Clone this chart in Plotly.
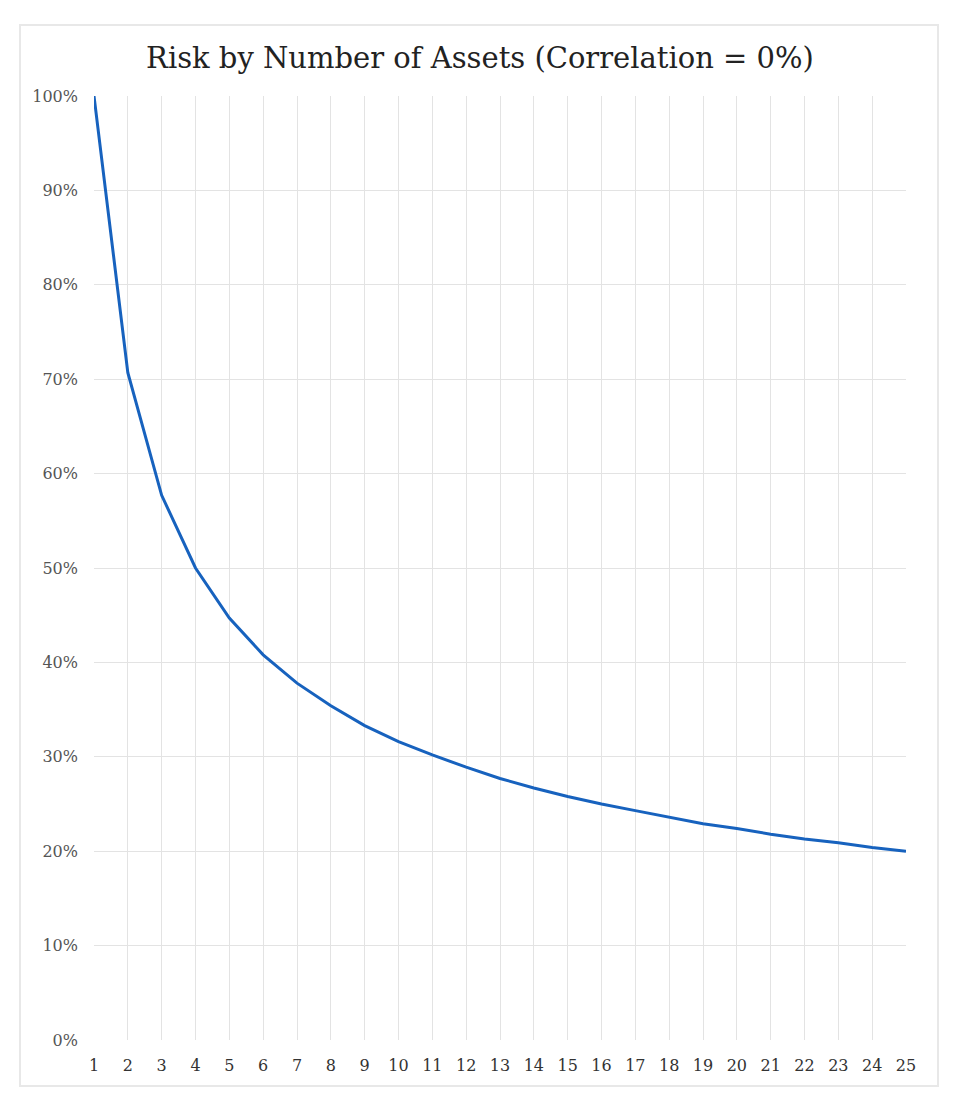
import plotly.graph_objects as go

assets = list(range(1, 26))
risk_pct = [100, 70.7, 57.7, 50.0, 44.7, 40.8, 37.8, 35.4, 33.3, 31.6,
            30.2, 28.9, 27.7, 26.7, 25.8, 25.0, 24.3, 23.6, 22.9, 22.4,
            21.8, 21.3, 20.9, 20.4, 20.0]
y_ticks = list(range(0, 101, 10))
y_tick_labels = [f"{v}%" for v in y_ticks]

# page body has an 8px margin, so the figure is sized/offset to compensate
OFF = 8
W, H = 964 - OFF, 1120 - OFF
L, R, T, B = 94 - OFF, 58, 96 - OFF, 80
pw, ph = W - L - R, H - T - B

fig = go.Figure()
fig.add_trace(go.Scatter(x=assets, y=risk_pct, mode="lines",
                         line=dict(color="#1762be", width=3), showlegend=False,
                         hoverinfo="skip"))

title_font = "DejaVu Serif, Liberation Serif, serif"
tick_font = "DejaVu Serif, Liberation Serif, serif"

fig.update_layout(
    width=W, height=H,
    margin=dict(l=L, r=R, t=T, b=B, pad=0),
    paper_bgcolor="white", plot_bgcolor="white",
    title=dict(text="Risk by Number of Assets (Correlation = 0%)",
               x=(480 - OFF) / W, xanchor="center", y=1 - (58 - OFF) / H,
               yanchor="middle",
               font=dict(family=title_font, size=29, color="#222222")),
    xaxis=dict(range=[1, 25], tickmode="array", tickvals=assets,
               ticktext=[str(a) for a in assets],
               showgrid=True, gridcolor="#e3e3e3", gridwidth=1.4,
               zeroline=False, showline=False, ticks="",
               ticklabelstandoff=14,
               tickfont=dict(family=tick_font, size=16, color="#333333")),
    yaxis=dict(range=[0, 100], tickmode="array", tickvals=y_ticks,
               ticktext=y_tick_labels,
               showgrid=True, gridcolor="#e3e3e3", gridwidth=1.4,
               zeroline=False, showline=False, ticks="",
               ticklabelstandoff=15,
               tickfont=dict(family=tick_font, size=16, color="#555555")),
)

# outer chart border
fig.add_shape(type="rect", xref="paper", yref="paper",
              x0=(20 - 94) / pw, x1=(938 - 94) / pw,
              y0=(1040 - 1086) / ph, y1=(1040 - 25) / ph,
              line=dict(color="#e8e8e8", width=2), fillcolor="rgba(0,0,0,0)",
              layer="below")

fig.write_html("out.html")
